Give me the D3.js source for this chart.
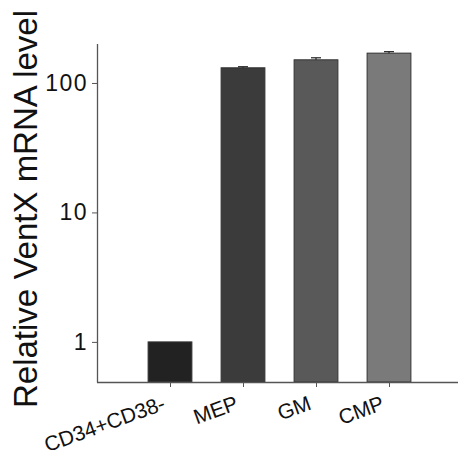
<!DOCTYPE html>
<html>
<head>
<meta charset="utf-8">
<script src="https://cdn.jsdelivr.net/npm/d3@7"></script>
<style>
  html, body { margin: 0; padding: 0; background: #fff; }
  text { font-family: "Liberation Sans", Arial, Helvetica, sans-serif; }
</style>
</head>
<body>
<svg id="chart" width="458" height="450"></svg>
<script>
const categories = ["CD34+CD38-", "MEP", "GM", "CMP"];
const values = [1, 131, 151, 170];
const errors = [0, 2.5, 5.5, 4.5];
const barColors = ["#222222", "#3b3b3b", "#595959", "#7a7a7a"];
const yTicks = [1, 10, 100];
const yLabel = "Relative VentX mRNA level";

const svg = d3.select("#chart");
const x = d3.scaleLinear().domain([0, 5]).range([97, 462]);
const y = d3.scaleLog().domain([0.49, 200]).range([382, 44]);
const barW = x(0.6) - x(0);

// bars
svg.append("g").selectAll("rect").data(values).join("rect")
  .attr("x", (d, i) => x(i + 1) - barW / 2)
  .attr("width", barW)
  .attr("y", d => y(d))
  .attr("height", d => y.range()[0] - y(d))
  .attr("fill", (d, i) => barColors[i])
  .attr("stroke", "#333")
  .attr("stroke-width", 1);

// error bars (upper)
const eb = svg.append("g").attr("stroke", "#222").attr("stroke-width", 1.2);
values.forEach((v, i) => {
  if (!errors[i]) return;
  const cx = x(i + 1);
  eb.append("line").attr("x1", cx).attr("x2", cx).attr("y1", y(v)).attr("y2", y(v + errors[i]));
  eb.append("line").attr("x1", cx - 5).attr("x2", cx + 5).attr("y1", y(v + errors[i])).attr("y2", y(v + errors[i]));
});

// y axis
const yAxis = svg.append("g").attr("transform", "translate(97,0)")
  .call(d3.axisLeft(y).tickValues(yTicks).tickFormat(d3.format("d")).tickSize(5).tickPadding(4));
yAxis.select(".domain").attr("stroke", "#555").attr("stroke-width", 1.3).attr("d", "M0.5,44V382.5");
yAxis.selectAll(".tick line").attr("stroke", "#555");
yAxis.selectAll(".tick text").attr("font-size", 23).attr("fill", "#111").style("letter-spacing", "1.5px");

// x axis
const xAxis = svg.append("g").attr("transform", "translate(0,382)")
  .call(d3.axisBottom(x).tickValues([1, 2, 3, 4]).tickFormat(d => categories[d - 1]).tickSize(5));
xAxis.select(".domain").attr("stroke", "#555").attr("stroke-width", 1.3).attr("d", "M97,0.5H462");
xAxis.selectAll(".tick line").attr("stroke", "#555");
xAxis.selectAll(".tick text")
  .attr("font-size", 21).attr("fill", "#111")
  .attr("text-anchor", "end")
  .attr("dy", null).attr("y", 0)
  .attr("transform", "translate(-4,27) rotate(-20)");

// y label
svg.append("text")
  .attr("transform", "translate(37,209) rotate(-90)")
  .attr("text-anchor", "middle")
  .attr("font-size", 33)
  .attr("fill", "#111")
  .text(yLabel);
</script>
</body>
</html>
